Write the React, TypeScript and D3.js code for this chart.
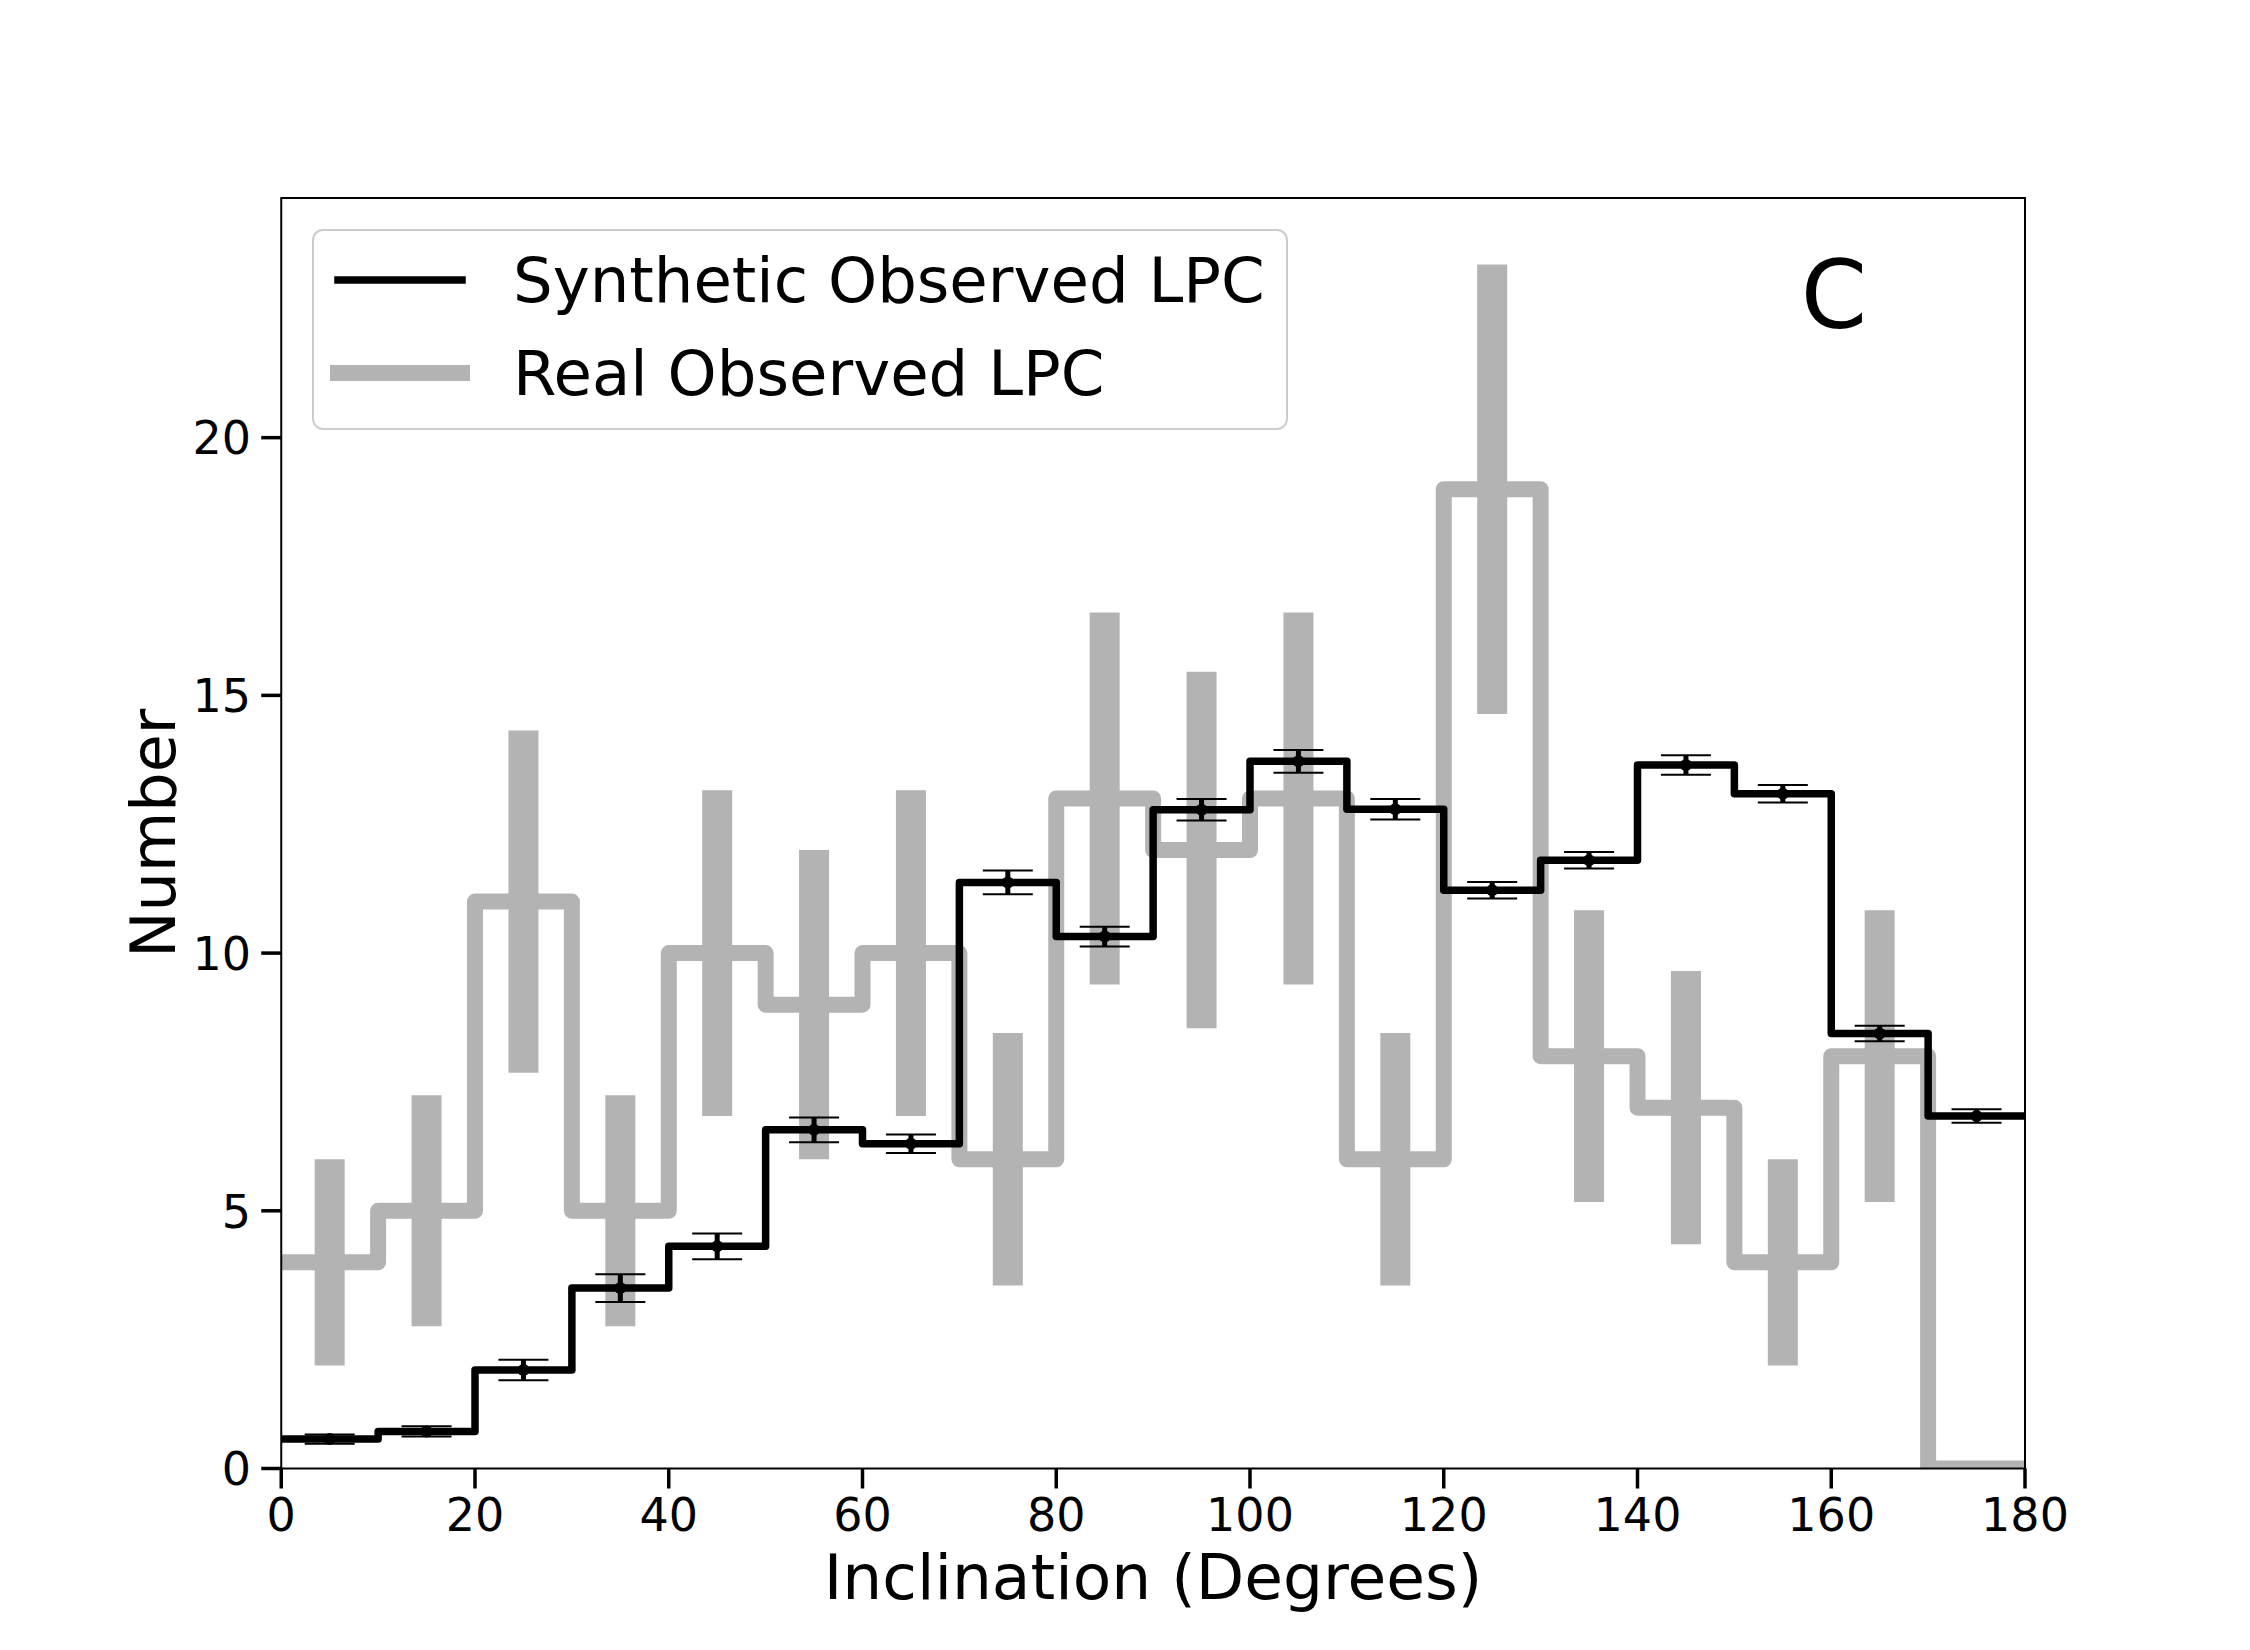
import * as d3 from 'd3';
import React from 'react';

// bins of 10 degrees, left edges
const binStarts = [0, 10, 20, 30, 40, 50, 60, 70, 80, 90, 100, 110, 120, 130, 140, 150, 160, 170];
const binEnd = 180;

// real observed LPC counts and their poisson errors
const realCounts = [4, 5, 11, 5, 10, 9, 10, 6, 13, 12, 13, 6, 19, 8, 7, 4, 8, 0];
const realErrors = [2.0, 2.24, 3.32, 2.24, 3.16, 3.0, 3.16, 2.45, 3.61, 3.46, 3.61, 2.45, 4.36, 2.83, 2.65, 2.0, 2.83, 0];

// synthetic observed LPC (mean per bin) and errors
const synthValues = [0.57, 0.72, 1.91, 3.5, 4.31, 6.57, 6.3, 11.37, 10.32, 12.78, 13.72, 12.79, 11.22, 11.8, 13.65, 13.09, 8.44, 6.84];
const synthErrors = [0.09, 0.1, 0.2, 0.27, 0.25, 0.24, 0.18, 0.23, 0.19, 0.21, 0.22, 0.2, 0.16, 0.16, 0.19, 0.17, 0.15, 0.13];

const xTicks = [0, 20, 40, 60, 80, 100, 120, 140, 160, 180];
const yTicks = [0, 5, 10, 15, 20];

const legendLabels = ['Synthetic Observed LPC', 'Real Observed LPC'];

const W = 2250;
const H = 1650;
const plot = { left: 281.25, right: 2025, top: 198, bottom: 1468.5 };
const GREY = '#b3b3b3';
const FONT = 'DejaVu Sans';

export default function App() {
  const x = d3.scaleLinear().domain([0, 180]).range([plot.left, plot.right]);
  const y = d3.scaleLinear().domain([0, 24.65]).range([plot.bottom, plot.top]);

  const stepLine = d3
    .line<[number, number]>()
    .x((d) => x(d[0]))
    .y((d) => y(d[1]))
    .curve(d3.curveStepAfter);

  const stepPoints = (vals: number[]): [number, number][] => [
    ...binStarts.map((b, i) => [b, vals[i]] as [number, number]),
    [binEnd, vals[vals.length - 1]],
  ];

  const centers = binStarts.map((b) => b + 5);

  return (
    <svg
      width={W}
      height={H}
      style={{ position: 'absolute', left: 0, top: 0, background: '#fff' }}
      fontFamily={FONT}
    >
      <defs>
        <clipPath id="plotClip">
          <rect x={plot.left} y={plot.top} width={plot.right - plot.left} height={plot.bottom - plot.top} />
        </clipPath>
      </defs>
      <rect x={0} y={0} width={W} height={H} fill="#fff" />

      <g clipPath="url(#plotClip)">
        {/* real observed step + error bars */}
        <path
          d={stepLine(stepPoints(realCounts)) || ''}
          fill="none"
          stroke={GREY}
          strokeWidth={16}
          strokeLinejoin="round"
          strokeLinecap="square"
        />
        {centers.map((c, i) =>
          realErrors[i] > 0 ? (
            <line
              key={'re' + i}
              x1={x(c)}
              x2={x(c)}
              y1={y(realCounts[i] - realErrors[i])}
              y2={y(realCounts[i] + realErrors[i])}
              stroke={GREY}
              strokeWidth={30}
            />
          ) : null
        )}

        {/* synthetic step + error bars */}
        <path
          d={stepLine(stepPoints(synthValues)) || ''}
          fill="none"
          stroke="#000"
          strokeWidth={7.5}
          strokeLinejoin="round"
          strokeLinecap="square"
        />
        {centers.map((c, i) => {
          const cx = x(c);
          const lo = y(synthValues[i] - synthErrors[i]);
          const hi = y(synthValues[i] + synthErrors[i]);
          return (
            <g key={'se' + i}>
              <line x1={cx} x2={cx} y1={lo} y2={hi} stroke="#000" strokeWidth={5} />
              <line x1={cx - 25} x2={cx + 25} y1={lo} y2={lo} stroke="#000" strokeWidth={2} />
              <line x1={cx - 25} x2={cx + 25} y1={hi} y2={hi} stroke="#000" strokeWidth={2} />
              <circle cx={cx} cy={y(synthValues[i])} r={6} fill="#000" />
            </g>
          );
        })}
      </g>

      {/* spines */}
      <rect
        x={plot.left}
        y={plot.top}
        width={plot.right - plot.left}
        height={plot.bottom - plot.top}
        fill="none"
        stroke="#000"
        strokeWidth={2}
      />

      {/* x ticks */}
      {xTicks.map((t) => (
        <g key={'xt' + t}>
          <line x1={x(t)} x2={x(t)} y1={plot.bottom} y2={plot.bottom + 20} stroke="#000" strokeWidth={3.5} />
          <text x={x(t)} y={1531} textAnchor="middle" fontSize={46} fill="#000">
            {t}
          </text>
        </g>
      ))}

      {/* y ticks */}
      {yTicks.map((t) => (
        <g key={'yt' + t}>
          <line x1={plot.left - 20} x2={plot.left} y1={y(t)} y2={y(t)} stroke="#000" strokeWidth={3.5} />
          <text x={251} y={y(t) + 16.8} textAnchor="end" fontSize={46} fill="#000">
            {t}
          </text>
        </g>
      ))}

      {/* axis labels */}
      <text x={(plot.left + plot.right) / 2} y={1599} textAnchor="middle" fontSize={63} fill="#000">
        Inclination (Degrees)
      </text>
      <text
        transform={`translate(175, ${(plot.top + plot.bottom) / 2}) rotate(-90)`}
        textAnchor="middle"
        fontSize={62}
        fill="#000"
      >
        Number
      </text>

      {/* panel label */}
      <text x={1834} y={328} textAnchor="middle" fontSize={95} fill="#000">
        C
      </text>

      {/* legend */}
      <rect x={313} y={230} width={974} height={199} rx={10} ry={10} fill="#fff" fillOpacity={0.8} stroke="#cccccc" strokeWidth={2} />
      <line x1={338} x2={462} y1={280} y2={280} stroke="#000" strokeWidth={7.5} strokeLinecap="square" />
      <line x1={338} x2={462} y1={373} y2={373} stroke={GREY} strokeWidth={16} strokeLinecap="square" />
      <text x={513} y={302} fontSize={62.5} fill="#000">
        {legendLabels[0]}
      </text>
      <text x={513} y={395} fontSize={62.5} fill="#000">
        {legendLabels[1]}
      </text>
    </svg>
  );
}
